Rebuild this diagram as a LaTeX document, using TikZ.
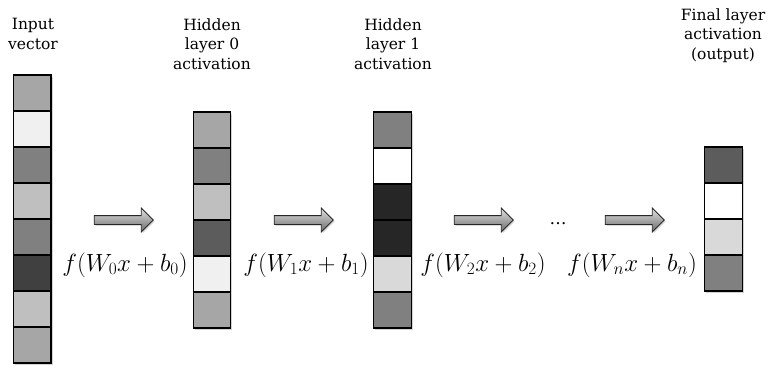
\documentclass[tikz,border=0pt]{standalone}
\usepackage{fontspec}
\setmainfont{DejaVu Serif}
\usetikzlibrary{shapes.arrows,shadows}
\begin{document}
\begin{tikzpicture}[x=1pt,y=-1pt,
  cell/.style={draw=black, line width=1.3pt, minimum width=37.5pt, minimum height=36pt, inner sep=0pt, outer sep=0pt},
  colshadow/.style={fill=white, minimum width=37.5pt, inner sep=0pt, outer sep=0pt, drop shadow={opacity=0.35, shadow xshift=1.6pt, shadow yshift=-1.6pt}},
  lbl/.style={font=\fontsize{15.5}{19.5}\selectfont, align=center, anchor=north},
  fx/.style={font=\fontsize{24}{28}\selectfont, anchor=base, inner sep=0pt},
  arr/.style={single arrow, draw=black!85, line width=0.8pt, top color=white!88!black, bottom color=white!42!black, minimum height=59pt, minimum width=23pt, single arrow head extend=7.5pt, inner xsep=0pt, inner ysep=0pt, drop shadow={opacity=0.3, shadow xshift=1.5pt, shadow yshift=-1.5pt}}]
\useasboundingbox (0,0) rectangle (768,365);
% column shadows
\node[colshadow, minimum height=288pt] (inS) at (32.2,219) {};
\node[colshadow, minimum height=216pt] (h0S) at (212,220) {};
\node[colshadow, minimum height=216pt] (h1S) at (392.5,220) {};
\node[colshadow, minimum height=144pt] (fnS) at (723.5,219) {};
% input vector
\foreach \c [count=\i] in {65,94,50,75,50,25,75,65}
  \node[cell, fill=white!\c!black] (in\i) at (32.2,{93+36*(\i-1)}) {};
% hidden 0
\foreach \c [count=\i] in {65,50,75,36,94,65}
  \node[cell, fill=white!\c!black] (hz\i) at (212,{130+36*(\i-1)}) {};
% hidden 1
\foreach \c [count=\i] in {50,100,15,15,85,50}
  \node[cell, fill=white!\c!black] (ho\i) at (392.5,{130+36*(\i-1)}) {};
% final
\foreach \c [count=\i] in {36,100,85,50}
  \node[cell, fill=white!\c!black] (fn\i) at (723.5,{165+36*(\i-1)}) {};
% labels
\node[lbl] (tin) at (33,15) {Input\\vector};
\node[lbl] (th0) at (212,15) {Hidden\\layer 0\\activation};
\node[lbl] (th1) at (393,15) {Hidden\\layer 1\\activation};
\node[lbl] (tfn) at (723,5) {Final layer\\activation\\(output)};
% arrows
\node[arr] (a0) at (121.5,220) {\rule{0pt}{8pt}};
\node[arr] (a1) at (301.5,220) {\rule{0pt}{8pt}};
\node[arr] (a2) at (481.5,220) {\rule{0pt}{8pt}};
\node[arr] (an) at (632.5,220) {\rule{0pt}{8pt}};
\node[font=\fontsize{17}{18}\selectfont, inner sep=0pt, anchor=base] (dots) at (558,224) {\ldots};
% function labels
\node[fx] (f0) at (125,271) {$f(W_0x+b_0)$};
\node[fx] (f1) at (306,271) {$f(W_1x+b_1)$};
\node[fx] (f2) at (483,271) {$f(W_2x+b_2)$};
\node[fx] (fn) at (632,271) {$f(W_nx+b_n)$};
\end{tikzpicture}
\end{document}
